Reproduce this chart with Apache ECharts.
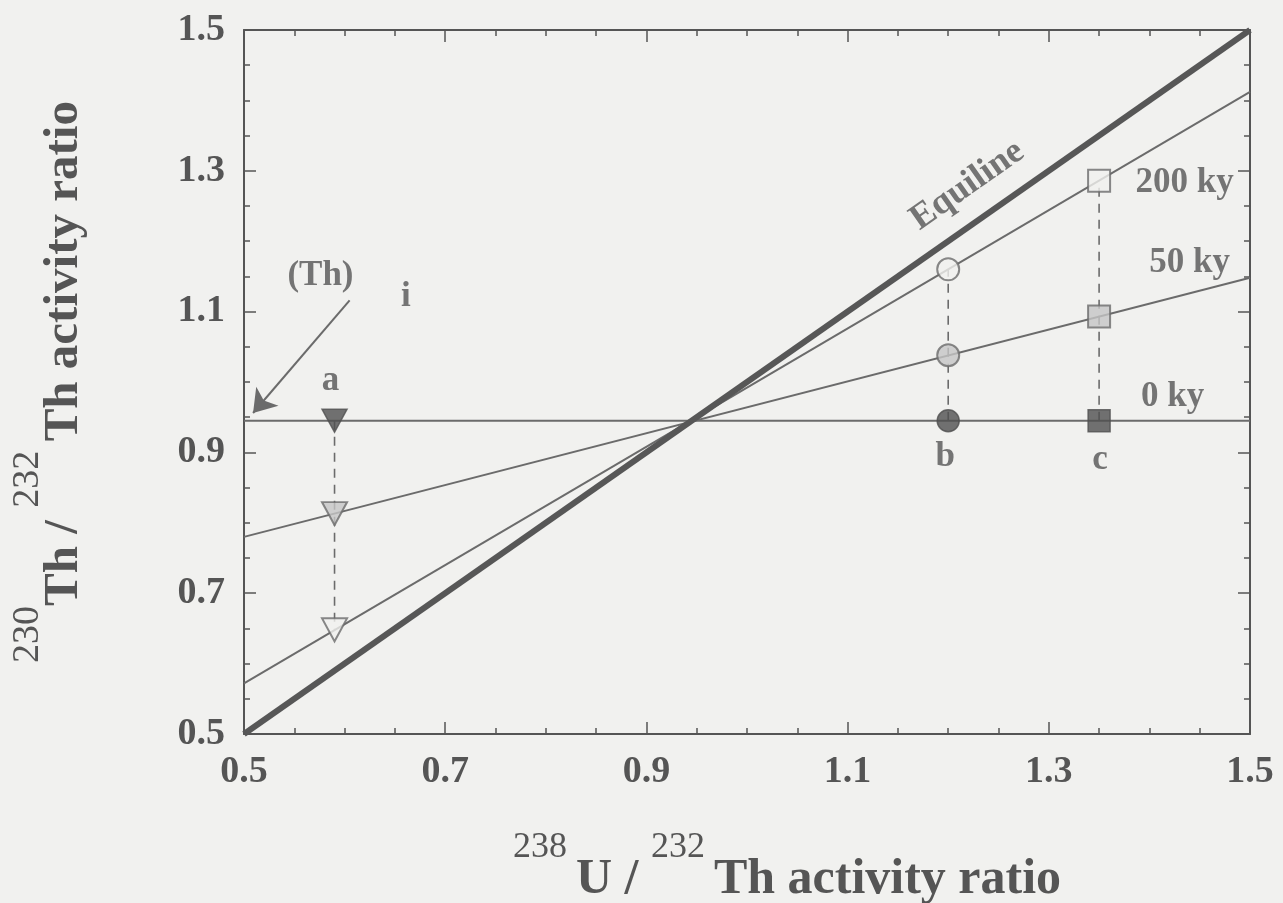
<!DOCTYPE html>
<html>
<head>
<meta charset="utf-8">
<script src="https://cdn.jsdelivr.net/npm/echarts@6/dist/echarts.min.js"></script>
<style>
  html, body { margin: 0; padding: 0; background: #f1f1ef; }
  #chart { width: 1283px; height: 903px; }
</style>
</head>
<body>
<div id="chart"></div>
<script>
// ---- data ----
const xEnds = [0.5, 1.5];            // x extent of the isochrons
const equiline = [0.5, 1.5];
const ky200 = [0.572, 1.412];
const ky50 = [0.78, 1.148];
const ky0 = [0.945, 0.945];
const sampleX = [0.59, 1.2, 1.35];   // samples a, b, c
const initialY = [0.945, 0.945, 0.945];
const after50Y = [0.813, 1.038, 1.093];
const after200Y = [0.648, 1.16, 1.286];
const sampleNames = ['a', 'b', 'c'];
const curveNames = ['Equiline', '200 ky', '50 ky', '0 ky'];
const axisMin = 0.5, axisMax = 1.5, axisStep = 0.2;

// ---- styling ----
const BG = '#f1f1ef';
const INK = '#555555';
const LINE = '#6b6b6b';
const FONT = '"Liberation Serif", "DejaVu Serif", serif';

const sampleSymbols = ['triangle', 'circle', 'rect'];
const sampleRot = [180, 0, 0];
const sampleSize = [[25, 23], 22, 22];

function pairs(xs, ys) { return xs.map((x, i) => [x, ys[i]]); }
function markers(ys, style) {
  return {
    type: 'scatter', z: 5,
    data: sampleX.map((x, i) => ({
      value: [x, ys[i]], symbol: sampleSymbols[i], symbolRotate: sampleRot[i], symbolSize: sampleSize[i]
    })),
    itemStyle: style
  };
}

// annotation text placed in data coordinates
const notes = [
  { text: curveNames[0], at: [1.219, 1.279], size: 36, rotate: 35 },
  { text: curveNames[1], at: [1.435, 1.283], size: 35 },
  { text: curveNames[2], at: [1.440, 1.169], size: 35 },
  { text: curveNames[3], at: [1.423, 0.979], size: 35 },
  { text: sampleNames[0], at: [0.586, 1.001], size: 35 },
  { text: sampleNames[1], at: [1.197, 0.893], size: 35 },
  { text: sampleNames[2], at: [1.351, 0.889], size: 35 },
  { text: '(Th)', at: [0.576, 1.151], size: 35 },
  { text: 'i', at: [0.661, 1.121], size: 35 }
];
const arrowFrom = [0.605, 1.116], arrowTo = [0.509, 0.956];

const tickStyle = { show: true, inside: true, length: 12, lineStyle: { color: INK, width: 1.5 } };
const minorStyle = { show: true, splitNumber: 4, length: 6, lineStyle: { color: INK, width: 1.5 } };
const lineStyleAxis = { show: true, onZero: false, lineStyle: { color: INK, width: 2 } };
const labelStyle = {
  fontFamily: FONT, fontWeight: 'bold', fontSize: 38, color: INK, margin: 19,
  formatter: v => v.toFixed(1)
};

function baseAxis(extra) {
  return Object.assign({
    type: 'value', min: axisMin, max: axisMax, interval: axisStep,
    axisLine: lineStyleAxis, axisTick: tickStyle, minorTick: minorStyle,
    splitLine: { show: false }, minorSplitLine: { show: false }
  }, extra);
}

const option = {
  backgroundColor: BG,
  animation: false,
  grid: { left: 244, right: 33, top: 30, bottom: 169, containLabel: false, outerBoundsMode: 'none' },
  xAxis: [
    baseAxis({
      position: 'bottom', axisLabel: labelStyle,
      name: '{s|238} {m|U / }{s|232} {m|Th activity ratio}',
      nameLocation: 'middle', nameGap: 96,
      nameTextStyle: {
        fontFamily: FONT, fontSize: 36, color: INK, padding: [0, 0, 0, 80],
        rich: {
          s: { fontFamily: FONT, fontSize: 36, color: INK, padding: [0, 0, 65, 0] },
          m: { fontFamily: FONT, fontSize: 50, fontWeight: 'bold', color: INK }
        }
      }
    }),
    baseAxis({ position: 'top', axisLabel: { show: false } })
  ],
  yAxis: [
    baseAxis({
      position: 'left', axisLabel: labelStyle,
      name: '{s|230}{m|Th / }{s|232} {m|Th activity ratio}',
      nameLocation: 'middle', nameGap: 124,
      nameTextStyle: {
        fontFamily: FONT, fontSize: 38, color: INK,
        rich: {
          s: { fontFamily: FONT, fontSize: 38, color: INK, padding: [0, 0, 73, 0] },
          m: { fontFamily: FONT, fontSize: 49, fontWeight: 'bold', color: INK }
        }
      }
    }),
    baseAxis({ position: 'right', axisLabel: { show: false } })
  ],
  series: [
    { type: 'line', name: curveNames[0], data: pairs(xEnds, equiline), symbol: 'none', z: 4,
      lineStyle: { width: 6, color: '#575757' } },
    { type: 'line', name: curveNames[1], data: pairs(xEnds, ky200), symbol: 'none', z: 3,
      lineStyle: { width: 2, color: LINE } },
    { type: 'line', name: curveNames[2], data: pairs(xEnds, ky50), symbol: 'none', z: 3,
      lineStyle: { width: 2, color: LINE } },
    { type: 'line', name: curveNames[3], data: pairs(xEnds, ky0), symbol: 'none', z: 3,
      lineStyle: { width: 2, color: LINE },
      markLine: {
        silent: true, symbol: ['none', 'arrow'], symbolSize: 22,
        label: { show: false },
        lineStyle: { type: 'solid', color: LINE, width: 2 },
        itemStyle: { color: LINE },
        data: [[{ coord: arrowFrom }, { coord: arrowTo }]]
      } },
    ...sampleX.map((x, i) => ({
      type: 'line', data: [[x, initialY[i]], [x, after200Y[i]]], symbol: 'none', z: 2,
      lineStyle: { type: [9, 7], width: 1.6, color: LINE }
    })),
    markers(initialY, { color: '#505050', borderColor: '#505050', borderWidth: 1.5 }),
    markers(after50Y, { color: '#c6c6c6', borderColor: LINE, borderWidth: 2 }),
    markers(after200Y, { color: BG, borderColor: LINE, borderWidth: 2 }),
    {
      type: 'scatter', z: 6, symbol: 'circle', symbolSize: 0.1,
      itemStyle: { color: 'rgba(0,0,0,0)' },
      data: notes.map(n => ({
        value: n.at,
        label: {
          show: true, position: 'inside', formatter: n.text, rotate: n.rotate || 0,
          fontFamily: FONT, fontWeight: 'bold', fontSize: n.size, color: INK
        }
      }))
    }
  ]
};

const chart = echarts.init(document.getElementById('chart'), null, { renderer: 'canvas' });
chart.setOption(option);
</script>
</body>
</html>
